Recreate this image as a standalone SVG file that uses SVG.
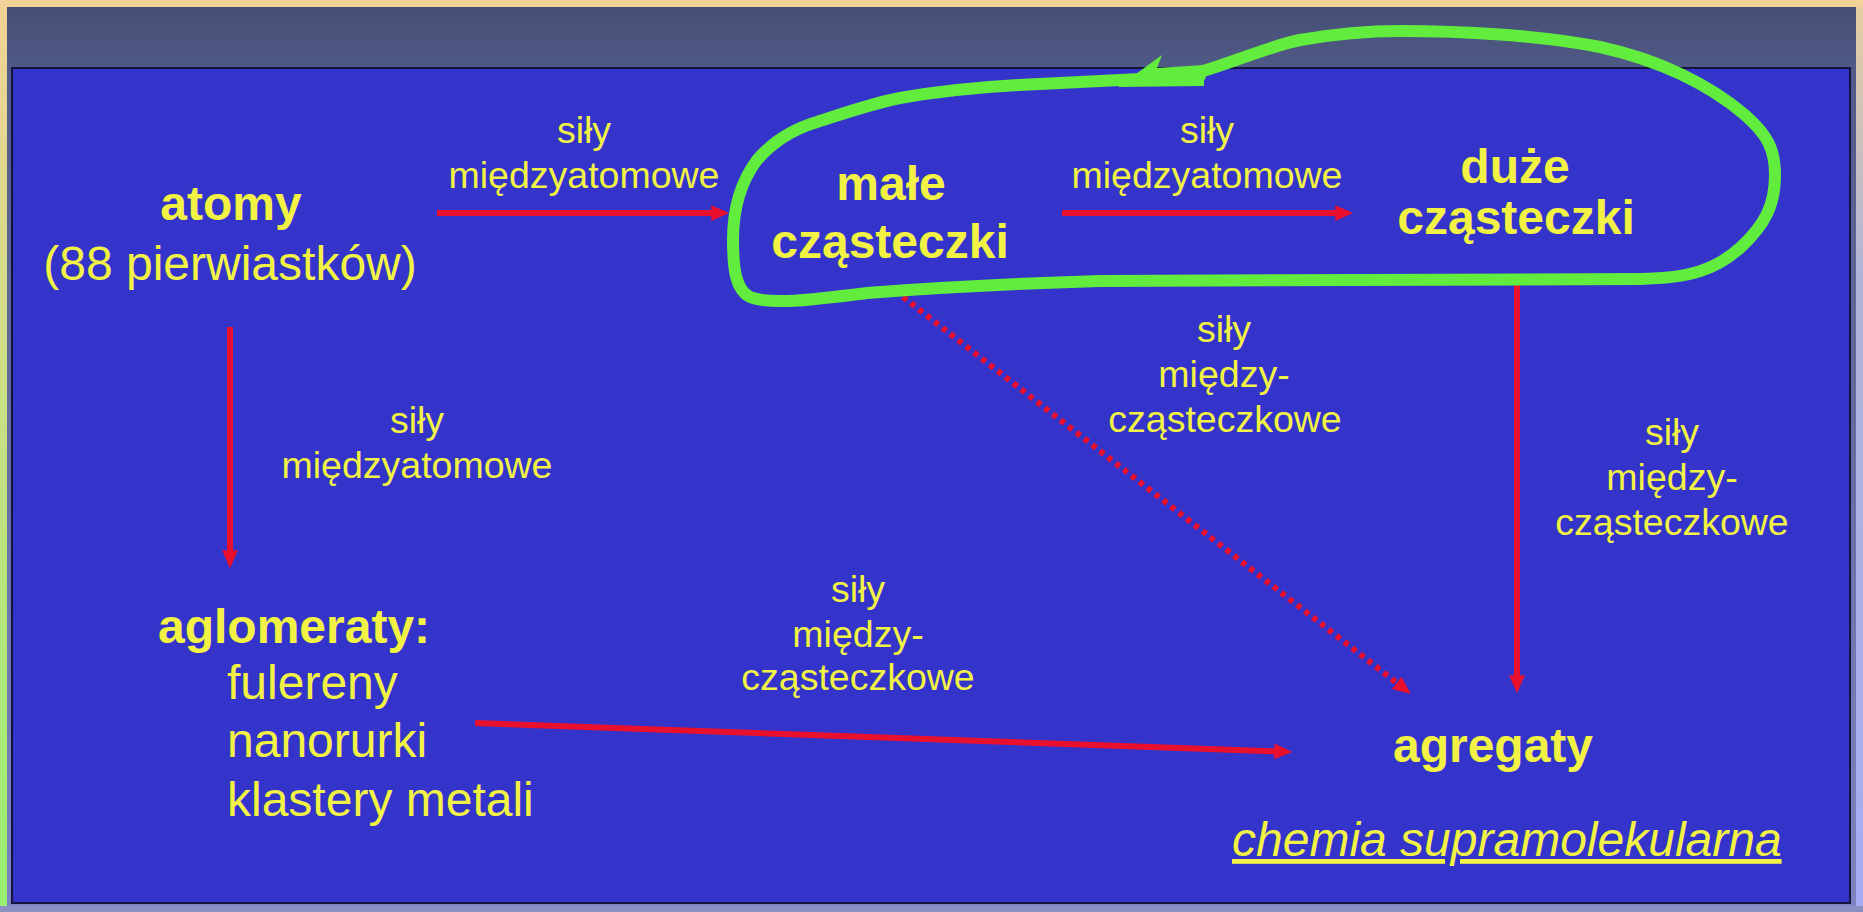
<svg xmlns="http://www.w3.org/2000/svg" width="1863" height="912" viewBox="0 0 1863 912">
<defs>
<linearGradient id="leftStrip" x1="0" y1="0" x2="0" y2="1">
<stop offset="0" stop-color="#f2d296"/>
<stop offset="1" stop-color="#98f070"/>
</linearGradient>
<linearGradient id="rightStrip" x1="0" y1="0" x2="0" y2="1">
<stop offset="0" stop-color="#e6cfa0"/>
<stop offset="0.3" stop-color="#b0b4d8"/>
<stop offset="1" stop-color="#a4acf4"/>
</linearGradient>
<linearGradient id="slide" x1="0" y1="0" x2="0" y2="1">
<stop offset="0" stop-color="#454f74"/>
<stop offset="0.08" stop-color="#515b8a"/>
<stop offset="1" stop-color="#7c84c0"/>
</linearGradient>
<marker id="ah" viewBox="0 0 16 16" markerWidth="18" markerHeight="18" markerUnits="userSpaceOnUse" refX="6" refY="8" orient="auto">
<path d="M0,1 L16,8 L0,15 Z" fill="#e8102c"/>
</marker>
<style>
.t{font-family:"Liberation Sans",Arial,sans-serif;fill:#f2f244;text-anchor:middle}
.b{font-weight:bold;font-size:48px}
.n{font-size:48px}
.s{font-size:37.5px}
.l{text-anchor:start}
.arr{stroke:#e8102c;stroke-width:6;fill:none;marker-end:url(#ah)}
.dot{stroke-dasharray:5 5;stroke-width:6}
.loop{stroke:#62ec3e;stroke-width:12;fill:none;stroke-linejoin:round;stroke-linecap:round}
</style>
</defs>
<g id="frame">
<rect x="0" y="0" width="1863" height="912" fill="#f2d296"/>
<rect x="0" y="0" width="8" height="912" fill="url(#leftStrip)"/>
<rect x="1855" y="0" width="8" height="912" fill="url(#rightStrip)"/>
<rect x="0" y="0" width="1863" height="7" fill="#f2d296"/>
<rect x="7" y="7" width="1849" height="899" fill="url(#slide)"/>
<rect x="0" y="906" width="1863" height="6" fill="#8a90c4"/>
<rect x="12" y="68" width="1838" height="835" fill="#3434cb" stroke="#12143c" stroke-width="2"/>
</g>
<g id="connectors">
<line class="arr" x1="437" y1="213" x2="718" y2="213"/>
<line class="arr" x1="1062" y1="213" x2="1342" y2="213"/>
<line class="arr" x1="230" y1="327" x2="230" y2="557"/>
<line class="arr dot" x1="903" y1="297" x2="1402" y2="687"/>
<line class="arr" x1="1517" y1="285" x2="1517" y2="682"/>
<line class="arr" x1="475" y1="723" x2="1281" y2="751.6"/>
</g>
<g id="highlight">
<path class="loop" d="M1200,72 C1240,60 1270,46 1300,40 C1340,33 1370,31 1400,31 C1460,31 1540,35 1600,47 C1660,60 1710,85 1745,115 C1768,135 1775,150 1775,175 C1775,205 1765,225 1740,248 C1715,270 1690,278 1640,279 L1100,281 C1000,284 930,288 867,293 C810,300 770,305 750,297 C736,290 733,270 733,240 C733,205 742,180 757,160 C770,145 790,130 817,122 C845,113 870,104 900,98 C940,91 990,86 1040,84 L1200,76"/>
<polygon points="1118,87 1162,55 1157,68 1204,65 1204,86" fill="#62ec3e"/>
</g>
<g id="atomy">
<text class="t b" x="231" y="220">atomy</text>
<text class="t n" x="230" y="280">(88 pierwiastków)</text>
</g>
<g id="male-czasteczki">
<text class="t b" x="891" y="200">małe</text>
<text class="t b" x="890" y="258">cząsteczki</text>
</g>
<g id="duze-czasteczki">
<text class="t b" x="1515" y="183">duże</text>
<text class="t b" x="1516" y="234">cząsteczki</text>
</g>
<g id="aglomeraty">
<text class="t b l" x="158" y="643">aglomeraty:</text>
<text class="t n l" x="227" y="699">fulereny</text>
<text class="t n l" x="227" y="757">nanorurki</text>
<text class="t n l" x="227" y="816">klastery metali</text>
</g>
<g id="agregaty">
<text class="t b" x="1493" y="762">agregaty</text>
<text class="t n l" x="1232" y="856" font-style="italic" text-decoration="underline">chemia supramolekularna</text>
</g>
<g id="labels">
<text class="t s" x="584" y="143">siły</text>
<text class="t s" x="584" y="188">międzyatomowe</text>
<text class="t s" x="1207" y="143">siły</text>
<text class="t s" x="1207" y="188">międzyatomowe</text>
<text class="t s" x="417" y="433">siły</text>
<text class="t s" x="417" y="478">międzyatomowe</text>
<text class="t s" x="1224" y="342">siły</text>
<text class="t s" x="1224" y="387">między-</text>
<text class="t s" x="1225" y="432">cząsteczkowe</text>
<text class="t s" x="1672" y="445">siły</text>
<text class="t s" x="1672" y="490">między-</text>
<text class="t s" x="1672" y="535">cząsteczkowe</text>
<text class="t s" x="858" y="602">siły</text>
<text class="t s" x="858" y="647">między-</text>
<text class="t s" x="858" y="690">cząsteczkowe</text>
</g>
</svg>
